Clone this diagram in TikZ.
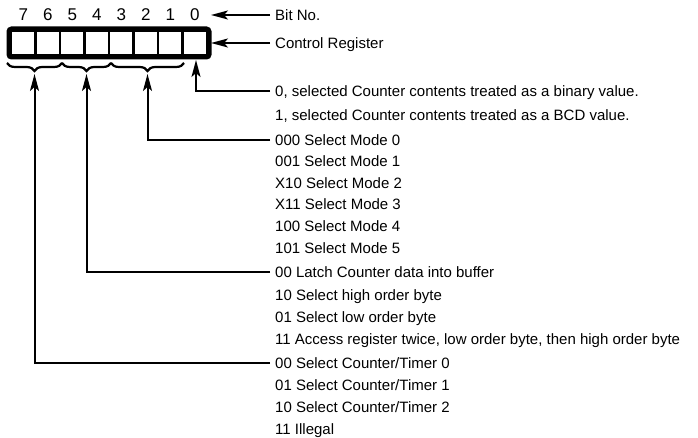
\documentclass[tikz,border=0pt]{standalone}
\usepackage{fontspec}
\setmainfont{Liberation Sans}
\usetikzlibrary{arrows.meta,decorations.pathreplacing}
\tikzset{
  lbl/.style={anchor=west,inner xsep=5pt,inner ysep=0pt,text height=11pt,text depth=0pt,font=\fontsize{15}{15}\selectfont},
  bitnum/.style={inner sep=0pt,text height=12pt,text depth=0pt,font=\fontsize{17}{17}\selectfont},
  cell/.style={draw,line width=2.2pt,minimum width=24.5pt,minimum height=24pt,inner sep=0pt},
  conn/.style={line width=2pt,-{Stealth[length=17pt,width=9pt,inset=4pt]}},
  brc/.style={line width=2.2pt,decorate,decoration={brace,mirror,amplitude=8pt}}
}
\begin{document}
\begin{tikzpicture}[x=1pt,y=-1pt]
\useasboundingbox (0,0) rectangle (698,438);
% bit numbers
\foreach \b/\x in {7/23.25,6/47.75,5/72.25,4/96.75,3/121.25,2/145.75,1/170.25,0/194.75}{
  \node[bitnum] (n\b) at (\x,15) {\b};
  \node[cell] (c\b) at (\x,43) {};
}
% outer frame
\draw[line width=4pt,rounded corners=3pt] (8.5,28.5) rectangle (209.5,57.5);
\coordinate (fr) at (211,43);
\coordinate (br) at (211,15);
% labels
\node[lbl] (bitno) at (270,15) {Bit No.};
\node[lbl] (creg) at (270,43) {Control Register};
\node[lbl] (l0) at (270,91) {0, selected Counter contents treated as a binary value.};
\node[lbl] (l1) at (270,115) {1, selected Counter contents treated as a BCD value.};
\node[lbl] (m0) at (270,140) {000 Select Mode 0};
\node[lbl] (m1) at (270,161.5) {001 Select Mode 1};
\node[lbl] (m2) at (270,183) {X10 Select Mode 2};
\node[lbl] (m3) at (270,204.5) {X11 Select Mode 3};
\node[lbl] (m4) at (270,226) {100 Select Mode 4};
\node[lbl] (m5) at (270,247.5) {101 Select Mode 5};
\node[lbl] (r0) at (270,272) {00 Latch Counter data into buffer};
\node[lbl] (r1) at (270,294.5) {10 Select high order byte};
\node[lbl] (r2) at (270,316.5) {01 Select low order byte};
\node[lbl] (r3) at (270,338.5) {11 Access register twice, low order byte, then high order byte};
\node[lbl] (s0) at (270,363) {00 Select Counter/Timer 0};
\node[lbl] (s1) at (270,385) {01 Select Counter/Timer 1};
\node[lbl] (s2) at (270,407) {10 Select Counter/Timer 2};
\node[lbl] (s3) at (270,428.5) {11 Illegal};
% braces
\draw[brc] (7,63) -- (62,63);
\draw[brc] (62,63) -- (111,63);
\draw[brc] (111,63) -- (184,63);
\coordinate (a0) at (196,60);
\coordinate (a1) at (147.5,74);
\coordinate (a2) at (86.5,74);
\coordinate (a3) at (34.5,74);
% connectors
\draw[conn] (bitno.west) -- (br);
\draw[conn] (creg.west) -- (fr);
\draw[conn] (l0.west) -| (a0);
\draw[conn] (m0.west) -| (a1);
\draw[conn] (r0.west) -| (a2);
\draw[conn] (s0.west) -| (a3);
\end{tikzpicture}
\end{document}
